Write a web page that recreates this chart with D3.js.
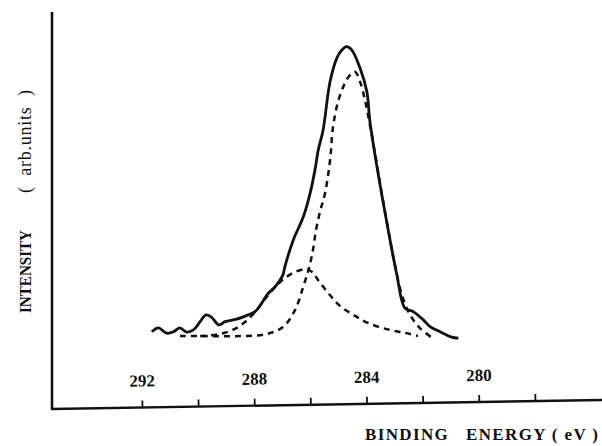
<!DOCTYPE html>
<html>
<head>
<meta charset="utf-8">
<script src="https://cdn.jsdelivr.net/npm/d3@7"></script>
<style>
  body { margin: 0; background: #fff; }
  svg text { font-family: "Liberation Serif", "Times New Roman", serif; fill: #111; }
</style>
</head>
<body>
<div id="plot"></div>
<script>
// measured spectrum (solid) and the two fitted components (dashed)
const totalEnergy = [291.65, 291.42, 291.12, 290.88, 290.65, 290.41, 290.17, 289.93, 289.72, 289.52,
  289.26, 289.04, 288.63, 288.22, 287.97, 287.74, 287.50, 287.26, 286.98, 286.91, 286.61, 286.25,
  286.01, 285.84, 285.72, 285.55, 285.30, 285.06, 284.91, 284.71, 284.53, 284.23, 283.99, 283.88,
  283.64, 283.23, 282.93, 282.63, 282.34, 281.98, 281.74, 281.38, 280.97, 280.73];
const totalIntensity = [20.9, 22.0, 20.5, 20.9, 22.0, 20.8, 21.4, 23.7, 25.6, 24.9,
  22.8, 23.7, 24.4, 25.6, 26.5, 28.8, 31.6, 33.4, 36.7, 39.0, 46.4, 52.9,
  59.4, 65.8, 71.4, 76.9, 90.4, 96.9, 98.9, 100.1, 99.2, 94.1, 87.6, 79.3,
  67.2, 49.2, 37.1, 27.4, 26.5, 24.2, 22.3, 20.9, 19.4, 19.1];

const mainEnergy = [290.65, 289.93, 288.51, 287.55, 286.98, 286.55, 286.26, 286.05, 285.91, 285.80,
  285.66, 285.48, 285.30, 285.20, 285.02, 284.77, 284.59, 284.41, 284.23, 284.06, 283.88, 283.66,
  283.45, 283.24, 282.99, 282.74, 282.45, 282.10, 281.70];
const mainIntensity = [19.7, 19.7, 19.7, 20.3, 22.2, 26.9, 33.3, 38.6, 43.6, 49.2,
  54.2, 59.4, 68.6, 77.5, 84.7, 90.0, 92.2, 93.1, 90.3, 85.3, 78.3, 68.6,
  58.9, 49.7, 39.4, 31.1, 25.6, 21.9, 19.4];

const smallEnergy = [289.93, 289.22, 288.69, 288.33, 287.97, 287.62, 287.26, 286.91, 286.55, 286.16,
  285.94, 285.73, 285.37, 284.95, 284.41, 283.88, 283.16, 282.63, 282.17];
const smallIntensity = [19.7, 20.3, 21.7, 23.6, 26.4, 30.0, 33.3, 35.8, 37.5, 38.3,
  37.5, 35.3, 31.7, 28.1, 25.3, 23.1, 21.4, 20.6, 19.7];

const tickValues = [292, 290, 288, 286, 284, 282, 280, 278];
const tickLabels = ["292", "", "288", "", "284", "", "280", ""];

const w = 602;
const h = 446;

const svg = d3.select("#plot")
  .append("svg")
  .attr("width", w)
  .attr("height", h);

const x = d3.scaleLinear().domain([292, 278]).range([142, 535]);
const y = d3.scaleLinear().domain([0, 100]).range([407, 47]);

const line = d3.line()
  .x(d => x(d[0]))
  .y(d => y(d[1]))
  .curve(d3.curveCatmullRom.alpha(0.5));

//-------------------------axes-------------------------------
svg.append("line")
  .attr("x1", 52).attr("y1", 12)
  .attr("x2", 52).attr("y2", 410)
  .attr("stroke", "#111")
  .attr("stroke-width", 2.6);

// the scanned x axis is tilted a little
const xAxisG = svg.append("g")
  .attr("transform", "translate(0,409) rotate(-0.94,52,0)");

xAxisG.append("line")
  .attr("x1", 51).attr("y1", 0)
  .attr("x2", 620).attr("y2", 0)
  .attr("stroke", "#111")
  .attr("stroke-width", 2.4);

xAxisG.call(d3.axisTop(x)
    .tickValues(tickValues)
    .tickSize(7)
    .tickPadding(14)
    .tickFormat((d, i) => tickLabels[i]))
  .call(g => g.select(".domain").remove())
  .call(g => g.selectAll(".tick line").attr("stroke", "#111").attr("stroke-width", 1.8))
  .call(g => g.selectAll(".tick text")
    .attr("font-family", "Liberation Serif, serif")
    .attr("font-size", 17)
    .attr("font-weight", "bold")
    .attr("fill", "#111"));

svg.append("text")
  .attr("x", 365)
  .attr("y", 440)
  .attr("font-size", 17)
  .attr("font-weight", "bold")
  .attr("textLength", 233)
  .attr("lengthAdjust", "spacing")
  .style("white-space", "pre")
  .text("BINDING   ENERGY ( eV )");

svg.append("text")
  .attr("transform", "translate(31,313) rotate(-90)")
  .attr("font-size", 17)
  .attr("font-weight", "bold")
  .attr("textLength", 83)
  .attr("lengthAdjust", "spacingAndGlyphs")
  .text("INTENSITY");

svg.append("text")
  .attr("transform", "translate(31,193) rotate(-90)")
  .attr("font-size", 18)
  .attr("textLength", 103)
  .attr("lengthAdjust", "spacing")
  .style("white-space", "pre")
  .text("(  arb.units  )");

//-------------------------curves-------------------------------
svg.append("path")
  .datum(d3.zip(mainEnergy, mainIntensity))
  .attr("d", line)
  .attr("fill", "none")
  .attr("stroke", "#111")
  .attr("stroke-width", 2.5)
  .attr("stroke-dasharray", "6,5");

svg.append("path")
  .datum(d3.zip(smallEnergy, smallIntensity))
  .attr("d", line)
  .attr("fill", "none")
  .attr("stroke", "#111")
  .attr("stroke-width", 2.5)
  .attr("stroke-dasharray", "6,5");

svg.append("path")
  .datum(d3.zip(totalEnergy, totalIntensity))
  .attr("d", line)
  .attr("fill", "none")
  .attr("stroke", "#111")
  .attr("stroke-width", 2.8)
  .attr("stroke-linejoin", "round");
</script>
</body>
</html>
